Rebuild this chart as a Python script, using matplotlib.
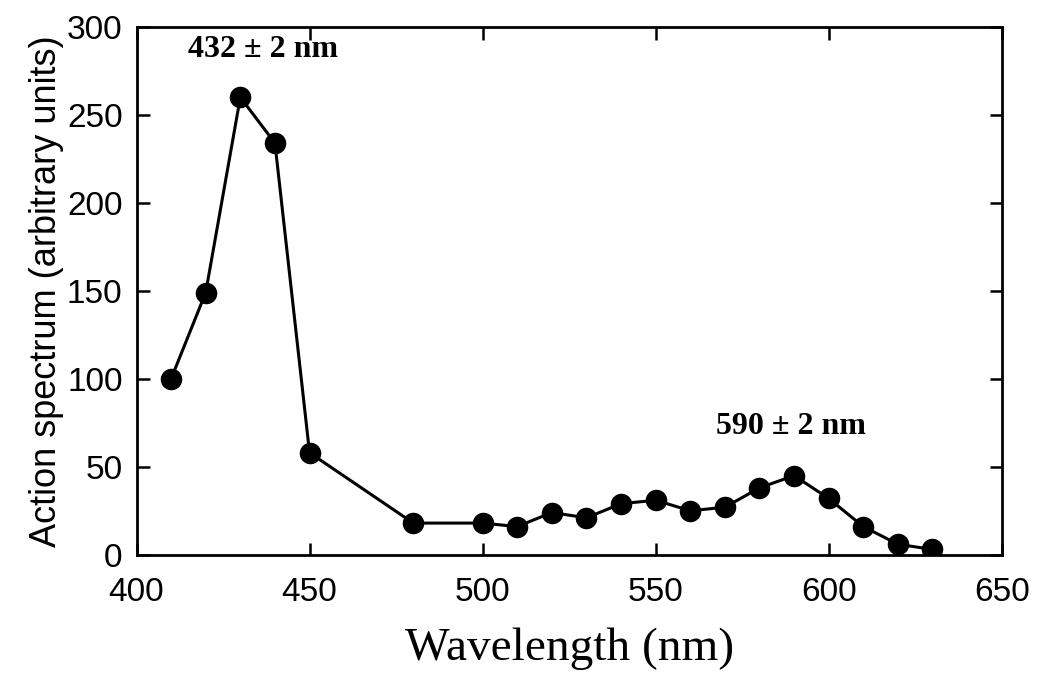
import numpy as np
from matplotlib import pyplot as plt

wavelength = [410, 420, 430, 440, 450, 480, 500, 510, 520, 530,
              540, 550, 560, 570, 580, 590, 600, 610, 620, 630]
action = [100, 149, 260, 234, 58, 18, 18, 16, 24, 21,
          29, 31, 25, 27, 38, 45, 32, 16, 6, 3]

fig = plt.figure(figsize=(10.5, 6.9), dpi=100)
ax = fig.add_axes([0.130, 0.196, 0.824, 0.765])

ax.plot(wavelength, action, color='black', lw=2.2, marker='o', ms=14.5)

ax.set_xlim(400, 650)
ax.set_ylim(0, 300)
ax.set_xticks(np.arange(400, 651, 50))
ax.set_yticks(np.arange(0, 301, 50))
ax.tick_params(direction='in', length=9, width=1.8, top=True, right=True,
               labelsize=24)
ax.tick_params(axis='x', pad=16)
ax.tick_params(axis='y', pad=10)
for lbl in ax.get_xticklabels() + ax.get_yticklabels():
    lbl.set_family('Liberation Sans')
for s in ax.spines.values():
    s.set_linewidth(2)

ax.set_xlabel('Wavelength (nm)', family='Liberation Serif', fontsize=34,
              labelpad=14)
ax.set_ylabel('Action spectrum (arbitrary units)', family='Liberation Sans',
              fontsize=26, labelpad=2)

ax.text(436.5, 287, '432 ± 2 nm', family='Liberation Serif', weight='bold',
        fontsize=23, ha='center', va='center')
ax.text(589, 73, '590 ± 2 nm', family='Liberation Serif', weight='bold',
        fontsize=23, ha='center', va='center')

fig.savefig('out.png', dpi=100)
